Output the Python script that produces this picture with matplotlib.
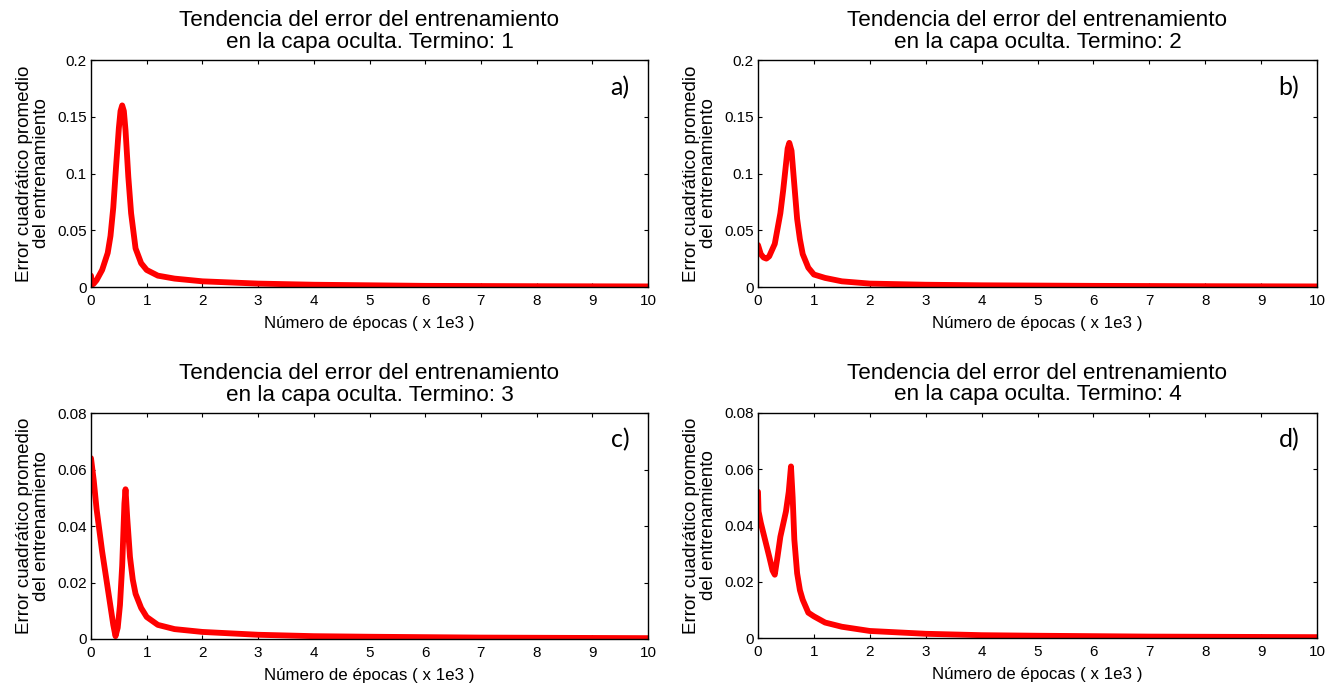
import matplotlib
matplotlib.use('Agg')
import matplotlib.pyplot as plt

plt.rcParams['font.family'] = ['Liberation Sans', 'DejaVu Sans']

# epochs in thousands, error values
xa = [0, 0.02, 0.05, 0.1, 0.2, 0.3, 0.35, 0.4, 0.45, 0.5, 0.53, 0.56, 0.59, 0.62, 0.67, 0.72, 0.8, 0.9, 1.0, 1.2, 1.5, 2.0, 2.5, 3.0, 4.0, 5.0, 6.0, 8.0, 10.0]
ya = [0.01, 0.002, 0.003, 0.006, 0.015, 0.03, 0.045, 0.07, 0.106, 0.14, 0.155, 0.16, 0.155, 0.138, 0.097, 0.065, 0.034, 0.021, 0.015, 0.01, 0.0074, 0.005, 0.004, 0.003, 0.002, 0.0015, 0.001, 0.0007, 0.0005]

xb = [0, 0.05, 0.1, 0.15, 0.2, 0.3, 0.4, 0.45, 0.5, 0.53, 0.56, 0.6, 0.65, 0.7, 0.75, 0.8, 0.9, 1.0, 1.2, 1.5, 2.0, 2.5, 3.0, 4.0, 6.0, 8.0, 10.0]
yb = [0.037, 0.029, 0.026, 0.025, 0.027, 0.038, 0.065, 0.085, 0.108, 0.122, 0.127, 0.12, 0.09, 0.06, 0.042, 0.029, 0.017, 0.011, 0.008, 0.005, 0.003, 0.0025, 0.002, 0.0015, 0.001, 0.0007, 0.0005]

xc = [0, 0.05, 0.1, 0.2, 0.3, 0.4, 0.44, 0.48, 0.52, 0.56, 0.6, 0.62, 0.65, 0.7, 0.75, 0.8, 0.9, 1.0, 1.2, 1.5, 2.0, 2.5, 3.0, 4.0, 5.0, 7.0, 10.0]
yc = [0.064, 0.056, 0.046, 0.031, 0.018, 0.005, 0.001, 0.004, 0.012, 0.026, 0.048, 0.053, 0.043, 0.029, 0.021, 0.016, 0.011, 0.0078, 0.005, 0.0035, 0.0025, 0.002, 0.0015, 0.001, 0.0008, 0.0005, 0.0003]

xd = [0, 0.01, 0.05, 0.1, 0.2, 0.26, 0.3, 0.35, 0.4, 0.5, 0.55, 0.59, 0.62, 0.65, 0.7, 0.75, 0.8, 0.9, 1.0, 1.2, 1.5, 2.0, 2.5, 3.0, 4.0, 5.0, 7.0, 10.0]
yd = [0.052, 0.045, 0.041, 0.037, 0.029, 0.024, 0.0225, 0.029, 0.036, 0.045, 0.052, 0.061, 0.05, 0.035, 0.023, 0.017, 0.0136, 0.009, 0.0077, 0.0055, 0.004, 0.0025, 0.002, 0.0015, 0.001, 0.0008, 0.0005, 0.0003]

terms = [1, 2, 3, 4]
letters = ['a)', 'b)', 'c)', 'd)']
xs = [xa, xb, xc, xd]
ys = [ya, yb, yc, yd]
ymaxes = [0.2, 0.2, 0.08, 0.08]
yticks = [[0, 0.05, 0.1, 0.15, 0.2], [0, 0.05, 0.1, 0.15, 0.2],
          [0, 0.02, 0.04, 0.06, 0.08], [0, 0.02, 0.04, 0.06, 0.08]]
ytick_labels = [['0', '0.05', '0.1', '0.15', '0.2'], ['0', '0.05', '0.1', '0.15', '0.2'],
                ['0', '0.02', '0.04', '0.06', '0.08'], ['0', '0.02', '0.04', '0.06', '0.08']]

fig = plt.figure(figsize=(13.42, 6.92), dpi=100)
W, H = 1342, 692
boxes = [(91, 648, 60, 287), (758, 1317, 60, 287),
         (91, 648, 413, 639), (758, 1317, 413, 638)]

for i in range(4):
    l, r, t, b = boxes[i]
    ax = fig.add_axes([l / W, 1 - b / H, (r - l) / W, (b - t) / H])
    ax.plot(xs[i], ys[i], color='red', lw=4.2, solid_joinstyle='round', solid_capstyle='round')
    ax.set_xlim(0, 10)
    ax.set_ylim(0, ymaxes[i])
    ax.set_xticks(range(11))
    ax.set_yticks(yticks[i])
    ax.set_yticklabels(ytick_labels[i])
    ax.tick_params(direction='in', top=True, right=True, length=3, labelsize=11)
    ax.tick_params(axis='x', pad=5)
    ax.tick_params(axis='y', pad=3)
    for s in ax.spines.values():
        s.set_linewidth(1)
    ax.set_title('Tendencia del error del entrenamiento\nen la capa oculta. Termino: %d' % terms[i],
                 fontsize=16.2, pad=9, linespacing=1.05)
    ax.set_xlabel('Número de épocas ( x 1e3 )', fontsize=12.2, labelpad=6)
    ax.set_ylabel('Error cuadrático promedio\ndel entrenamiento', fontsize=13.5, labelpad=5,
                  linespacing=1.05)
    ax.text(0.95, 0.88, letters[i], transform=ax.transAxes, ha='center', va='center',
            fontsize=18, family=['Lato', 'DejaVu Sans'])

fig.savefig('out.png', dpi=100)
